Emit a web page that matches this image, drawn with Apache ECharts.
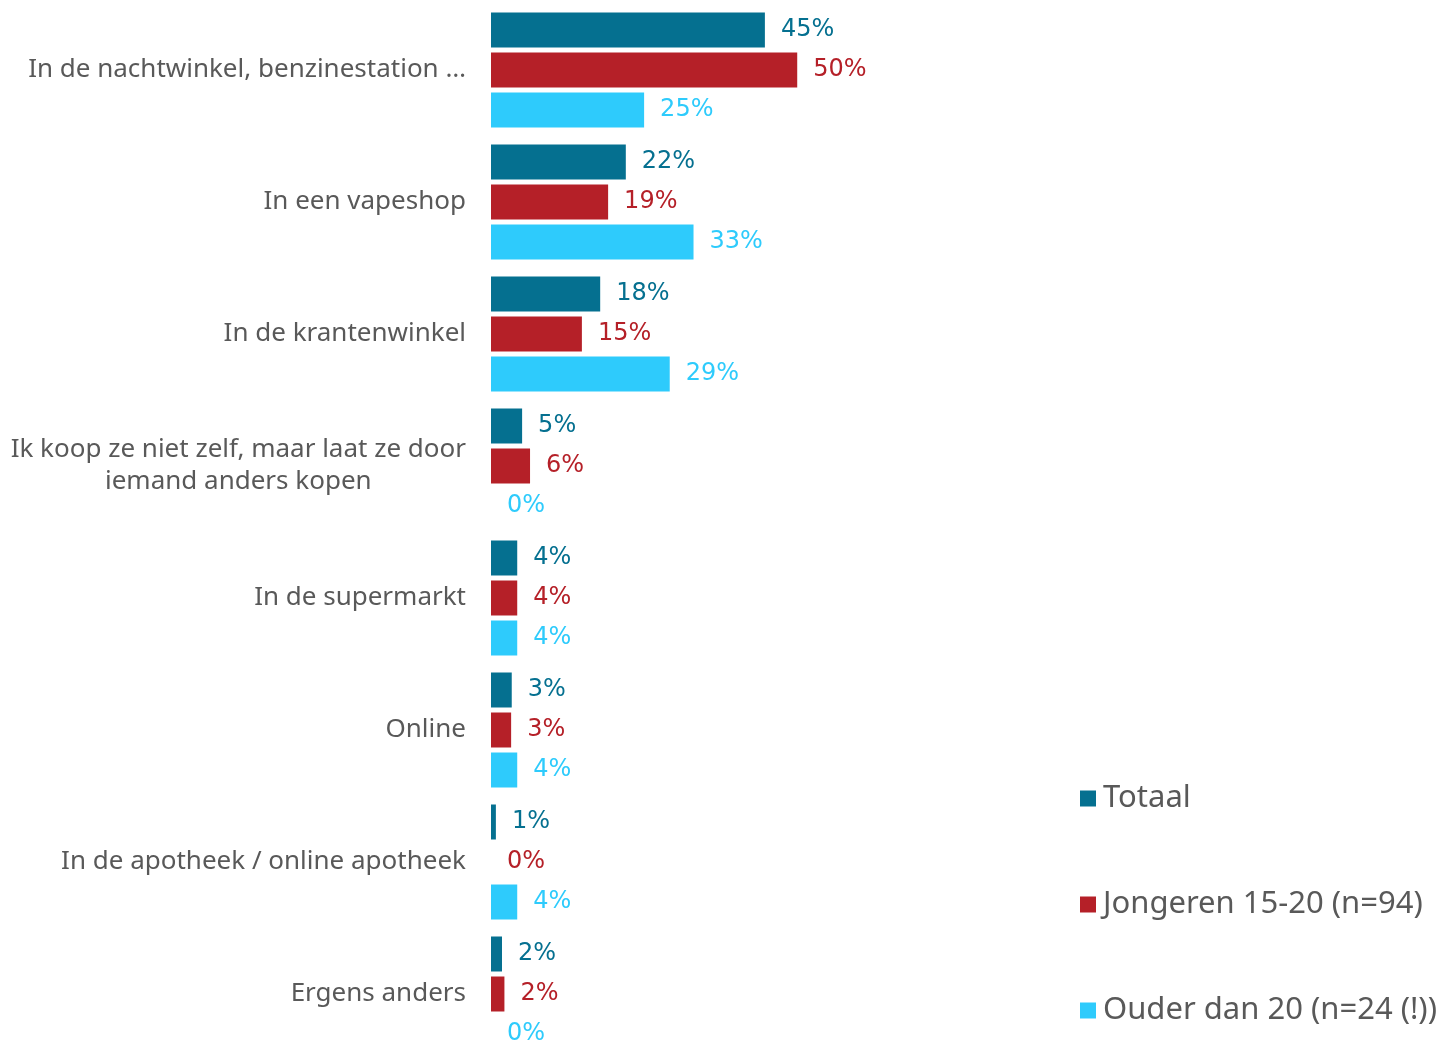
<!DOCTYPE html>
<html>
<head>
<meta charset="utf-8">
<script src="https://cdn.jsdelivr.net/npm/echarts@6/dist/echarts.min.js"></script>
<style>
  html, body { margin: 0; padding: 0; background: #fff; }
  #main { width: 1437px; height: 1045px; }
</style>
</head>
<body>
<div id="main"></div>
<script>
// categories, top to bottom
var categories = [
    'In de nachtwinkel, benzinestation \u2026',
    'In een vapeshop',
    'In de krantenwinkel',
    'Ik koop ze niet zelf, maar laat ze door\niemand anders kopen',
    'In de supermarkt',
    'Online',
    'In de apotheek / online apotheek',
    'Ergens anders'
];
var seriesNames = ['Totaal', 'Jongeren 15-20 (n=94)', 'Ouder dan 20 (n=24 (!))'];
// percentages (labels show them rounded)
var totaal = [44.9, 22.1, 17.9, 5.1, 4.3, 3.4, 0.8, 1.8];
var jongeren = [50.2, 19.2, 14.9, 6.4, 4.3, 3.3, 0, 2.2];
var ouder = [25.1, 33.2, 29.3, 0, 4.3, 4.3, 4.3, 0];
var colors = ['#057090', '#b52028', '#2ecbfc'];
var font = 'Noto Sans';

var myChart = echarts.init(document.getElementById('main'));

function makeSeries(name, data, color) {
    return {
        name: name,
        type: 'bar',
        data: data,
        barWidth: 35,
        barGap: '14.3%',
        itemStyle: { color: color },
        label: {
            show: true,
            position: 'right',
            distance: 16,
            color: color,
            fontFamily: 'DejaVu Sans',
            fontSize: 24,
            formatter: function (p) { return Math.round(p.value) + '%'; }
        }
    };
}

var option = {
    animation: false,
    color: colors,
    grid: {
        left: 491,
        width: 610,
        top: 4,
        height: 1056,
        outerBoundsMode: 'none',
        containLabel: false
    },
    legend: {
        orient: 'vertical',
        left: 1080,
        top: 783,
        padding: 0,
        itemWidth: 16,
        itemHeight: 16,
        itemGap: 75,
        icon: 'rect',
        textStyle: {
            color: '#595959',
            fontFamily: font,
            fontSize: 31,
            lineHeight: 30,
            padding: [0, 0, 0, 2]
        },
        data: seriesNames
    },
    xAxis: {
        type: 'value',
        min: 0,
        max: 100,
        show: false,
        splitLine: { show: false }
    },
    yAxis: {
        type: 'category',
        data: categories,
        inverse: true,
        axisLine: { show: false },
        axisTick: { show: false },
        axisLabel: {
            margin: 25,
            color: '#595959',
            fontFamily: font,
            fontSize: 26,
            lineHeight: 32,
            formatter: function (v) {
                return v.split('\n').map(function (s) { return '{c|' + s + '}'; }).join('\n');
            },
            rich: {
                c: { align: 'center', color: '#595959', fontFamily: font, fontSize: 26, lineHeight: 32 }
            }
        }
    },
    series: [
        makeSeries(seriesNames[0], totaal, colors[0]),
        makeSeries(seriesNames[1], jongeren, colors[1]),
        makeSeries(seriesNames[2], ouder, colors[2])
    ]
};
myChart.setOption(option);
</script>
</body>
</html>
